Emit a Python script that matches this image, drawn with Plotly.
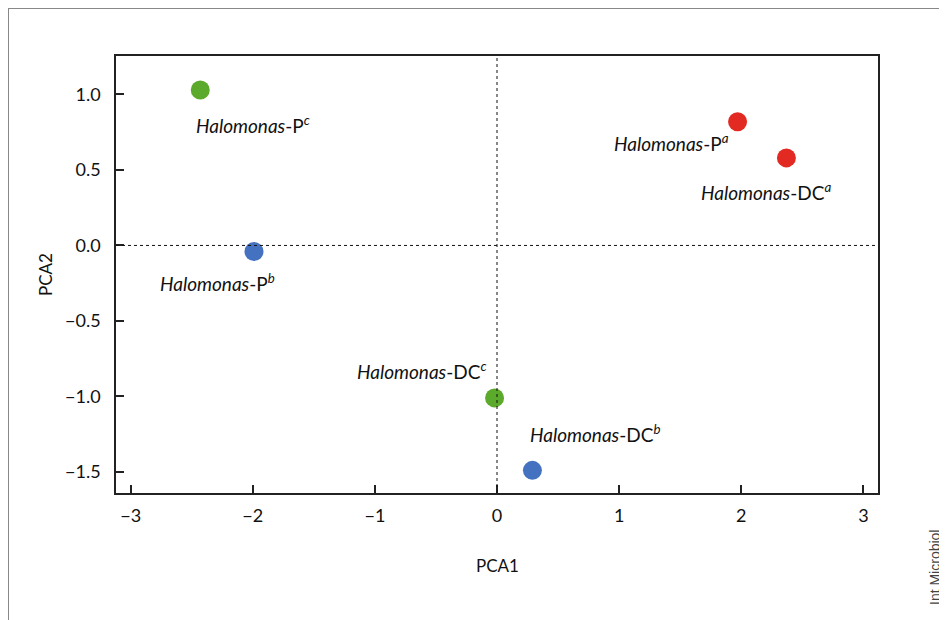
import plotly.graph_objects as go

# Data
labels = ["Halomonas-P<sup><i>c</i></sup>", "Halomonas-P<sup><i>b</i></sup>",
          "Halomonas-P<sup><i>a</i></sup>", "Halomonas-DC<sup><i>a</i></sup>",
          "Halomonas-DC<sup><i>c</i></sup>", "Halomonas-DC<sup><i>b</i></sup>"]
pca1 = [-2.43, -1.99, 1.97, 2.37, -0.02, 0.29]
pca2 = [1.03, -0.04, 0.82, 0.58, -1.01, -1.49]
groups = ["c", "b", "a", "a", "c", "b"]
x_ticks = [-3, -2, -1, 0, 1, 2, 3]
y_ticks = [1.0, 0.5, 0.0, -0.5, -1.0, -1.5]

# label placements (data coords)
label_x = [-2.00, -2.29, 1.43, 2.20, -0.62, 0.80]
label_y = [0.80, -0.245, 0.68, 0.36, -0.83, -1.245]

colors = {"a": "#E32A22", "b": "#4472C0", "c": "#5BAA2B"}
FONT = "Lato, Open Sans, sans-serif"

# page body adds an 8px offset; plot area in figure coords
L, T, PW, PH = 108, 48, 762, 437
FW, FH = 939, 612

def px(x):
    return (x - 8 - L) / PW

def py(y):
    return (T + PH - (y - 8)) / PH

fig = go.Figure()
fig.add_trace(go.Scatter(
    x=pca1, y=pca2, mode="markers",
    marker=dict(size=19, color=[colors[g] for g in groups], line=dict(width=0)),
    showlegend=False, hoverinfo="skip"))

for lbl, lx, ly in zip(labels, label_x, label_y):
    txt = lbl.replace("Halomonas", "<i>Halomonas</i>")
    fig.add_annotation(x=lx, y=ly, xref="x", yref="y", text=txt, showarrow=False,
                       font=dict(family=FONT, size=19, color="#111"))

# zero lines
fig.add_shape(type="line", xref="x", yref="paper", x0=0, x1=0, y0=0, y1=1,
              line=dict(color="#111", width=1, dash="dot"))
fig.add_shape(type="line", xref="paper", yref="y", x0=0, x1=1, y0=0, y1=0,
              line=dict(color="#111", width=1, dash="dot"))

# outer frame (top and left)
fig.add_shape(type="line", xref="paper", yref="paper", x0=px(8), x1=px(960), y0=py(8), y1=py(8),
              line=dict(color="#888", width=2))
fig.add_shape(type="line", xref="paper", yref="paper", x0=px(8), x1=px(8), y0=py(8), y1=py(640),
              line=dict(color="#888", width=2))

# axis titles
fig.add_annotation(x=px(45), y=py(275), xref="paper", yref="paper",
                   xanchor="center", yanchor="middle",
                   text="PCA2", textangle=-90, showarrow=False,
                   font=dict(family=FONT, size=17, color="#111"))
fig.add_annotation(x=px(497), y=py(565), xref="paper", yref="paper",
                   xanchor="center", yanchor="middle",
                   text="PCA1", showarrow=False,
                   font=dict(family=FONT, size=17, color="#111"))
fig.add_annotation(x=px(935), y=py(568), xref="paper", yref="paper",
                   xanchor="center", yanchor="middle",
                   text="Int Microbiol", textangle=-90, showarrow=False,
                   font=dict(family="Liberation Sans, Arial, sans-serif", size=14, color="#444"))

axis_common = dict(showline=True, linecolor="#222", linewidth=1.5, mirror=True,
                   ticks="inside", ticklen=8, tickcolor="#222", tickwidth=1.5,
                   showgrid=False, zeroline=False,
                   tickfont=dict(family=FONT, size=18, color="#111"))

fig.update_xaxes(range=[-3.12, 3.12], tickvals=x_ticks,
                 ticktext=[str(v).replace("-", "−") for v in x_ticks],
                 ticklabelstandoff=6, **axis_common)
fig.update_yaxes(range=[-1.64, 1.255], tickvals=y_ticks,
                 ticktext=[f"{v:.1f}".replace("-", "−") for v in y_ticks],
                 ticklabelstandoff=10, **axis_common)

fig.update_layout(width=FW, height=FH, plot_bgcolor="white", paper_bgcolor="white",
                  margin=dict(l=L, r=FW - L - PW, t=T, b=FH - T - PH),
                  font=dict(family=FONT))

fig.write_html("out.html")
